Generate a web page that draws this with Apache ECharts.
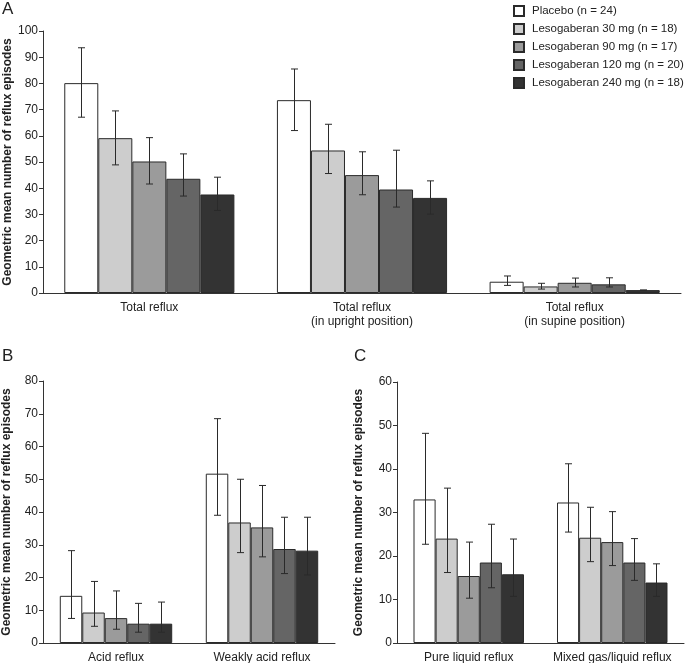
<!DOCTYPE html>
<html>
<head>
<meta charset="utf-8">
<script src="https://cdn.jsdelivr.net/npm/echarts@6/dist/echarts.min.js"></script>
<style>
html,body{margin:0;padding:0;background:#fff;}
#chart{width:685px;height:663px;}
</style>
</head>
<body>
<div id="chart"></div>
<script>
// ---- Data ----
const seriesNames = ['Placebo (n = 24)', 'Lesogaberan 30 mg (n = 18)', 'Lesogaberan 90 mg (n = 17)', 'Lesogaberan 120 mg (n = 20)', 'Lesogaberan 240 mg (n = 18)'];
const seriesColors = ['#ffffff', '#cdcdcd', '#9b9b9b', '#656565', '#333333'];

const catsA = ['Total reflux', 'Total reflux\n(in upright position)', 'Total reflux\n(in supine position)'];
const catsB = ['Acid reflux', 'Weakly acid reflux'];
const catsC = ['Pure liquid reflux', 'Mixed gas/liquid reflux'];

// Panel A: values per series (rows) across categories
const valA = [[80.1, 73.6, 4.3], [59.1, 54.4, 2.5], [50.2, 45.0, 3.9], [43.6, 39.5, 3.3], [37.6, 36.3, 1.1]];
const loA  = [[67.1, 62.0, 2.9], [48.9, 45.6, 1.5], [41.6, 37.5, 2.3], [37.0, 32.8, 2.3], [31.5, 30.1, 1.1]];
const hiA  = [[93.6, 85.5, 6.5], [69.5, 64.4, 3.7], [59.3, 53.9, 5.7], [53.1, 54.5, 5.8], [44.2, 42.8, 1.1]];

// Panel B
const valB = [[14.4, 51.7], [9.3, 36.8], [7.6, 35.3], [5.9, 28.7], [5.9, 28.2]];
const loB  = [[7.5, 39.0], [5.1, 27.6], [4.2, 26.3], [3.3, 21.2], [3.3, 20.8]];
const hiB  = [[28.2, 68.5], [18.8, 50.0], [15.9, 48.1], [12.1, 38.4], [12.5, 38.4]];

// Panel C
const valC = [[33.0, 32.3], [24.0, 24.2], [15.4, 23.2], [18.5, 18.5], [15.8, 13.9]];
const loC  = [[22.7, 25.5], [16.2, 18.7], [10.3, 17.8], [12.7, 14.4], [10.7, 10.7]];
const hiC  = [[48.2, 41.2], [35.6, 31.2], [23.2, 30.2], [27.3, 24.0], [23.9, 18.2]];

const yMaxA = 100, yMaxB = 80, yMaxC = 60, yStep = 10;
const yName = 'Geometric mean number of reflux episodes';

// ---- Chart ----
const FONT = 'Liberation Sans, Arial, Helvetica, sans-serif';
const TXT = '#222';
const AX = '#333';

const panels = [
  {cats: catsA, val: valA, lo: loA, hi: hiA, max: yMaxA, gap: 0.20, grid: {left: 43, top: 31, width: 638, height: 262}, nameGap: 29},
  {cats: catsB, val: valB, lo: loB, hi: hiB, max: yMaxB, gap: 0.23, grid: {left: 43, top: 381, width: 292, height: 262}, nameGap: 30},
  {cats: catsC, val: valC, lo: loC, hi: hiC, max: yMaxC, gap: 0.23, grid: {left: 397, top: 382, width: 287, height: 261}, nameGap: 32}
];

const grids = [], xAxes = [], yAxes = [], series = [];
panels.forEach((p, gi) => {
  grids.push(Object.assign({containLabel: false, outerBoundsMode: 'none'}, p.grid));
  xAxes.push({
    type: 'category', gridIndex: gi, data: p.cats,
    axisLine: {lineStyle: {color: AX, width: 1}},
    axisTick: {show: false},
    axisLabel: {color: TXT, fontSize: 12, fontFamily: FONT, margin: 8, lineHeight: 14, interval: 0, hideOverlap: false}
  });
  yAxes.push({
    type: 'value', gridIndex: gi, min: 0, max: p.max, interval: yStep,
    name: yName, nameLocation: 'middle', nameGap: p.nameGap, nameRotate: 90, nameMoveOverlap: false,
    nameTextStyle: {color: TXT, fontSize: 12, fontWeight: 'bold', fontFamily: FONT},
    axisLine: {show: true, lineStyle: {color: AX, width: 1}},
    axisTick: {show: true, length: 4, lineStyle: {color: AX}},
    axisLabel: {color: TXT, fontSize: 12, fontFamily: FONT, margin: 5},
    splitLine: {show: false}
  });
  seriesNames.forEach((nm, si) => {
    series.push({
      type: 'bar', name: nm, xAxisIndex: gi, yAxisIndex: gi,
      data: p.val[si],
      barGap: '0%', barCategoryGap: (p.gap * 100) + '%',
      itemStyle: {color: seriesColors[si], borderColor: '#2a2a2a', borderWidth: 1},
      emphasis: {disabled: true}, animation: false
    });
  });
  // error bars
  const errData = [];
  seriesNames.forEach((nm, si) => {
    p.cats.forEach((c, ci) => {
      errData.push([ci, si, p.lo[si][ci], p.hi[si][ci]]);
    });
  });
  const gap = p.gap;
  series.push({
    type: 'custom', xAxisIndex: gi, yAxisIndex: gi, data: errData, z: 10,
    encode: {x: 0, y: [2, 3]}, animation: false, silent: true,
    renderItem: function (params, api) {
      const ci = api.value(0), si = api.value(1), lo = api.value(2), hi = api.value(3);
      const catW = api.size([1, 0])[0];
      const bw = catW * (1 - gap) / 5;
      const cx = Math.round(api.coord([ci, 0])[0] + (si - 2) * bw) + 0.5;
      const yl = api.coord([ci, lo])[1], yh = api.coord([ci, hi])[1];
      const cap = 3.5;
      const st = {stroke: '#2a2a2a', lineWidth: 1};
      return {type: 'group', children: [
        {type: 'line', shape: {x1: cx, y1: yl, x2: cx, y2: yh}, style: st},
        {type: 'line', shape: {x1: cx - cap, y1: yh, x2: cx + cap, y2: yh}, style: st},
        {type: 'line', shape: {x1: cx - cap, y1: yl, x2: cx + cap, y2: yl}, style: st}
      ]};
    }
  });
});

const chart = echarts.init(document.getElementById('chart'), null, {renderer: 'canvas'});
chart.setOption({
  backgroundColor: '#ffffff',
  animation: false,
  title: [
    {text: 'A', left: 2, top: 1, padding: 0, textStyle: {fontSize: 17, fontWeight: 'normal', color: TXT, fontFamily: FONT}},
    {text: 'B', left: 2, top: 348, padding: 0, textStyle: {fontSize: 17, fontWeight: 'normal', color: TXT, fontFamily: FONT}},
    {text: 'C', left: 354, top: 348, padding: 0, textStyle: {fontSize: 17, fontWeight: 'normal', color: TXT, fontFamily: FONT}}
  ],
  legend: {
    data: seriesNames, orient: 'vertical', left: 513, top: 5, padding: 0,
    icon: 'rect', itemWidth: 10, itemHeight: 10, itemGap: 6,
    textStyle: {color: TXT, fontSize: 11.5, fontFamily: FONT, padding: [0, 0, 0, 3]},
    selectedMode: false
  },
  grid: grids, xAxis: xAxes, yAxis: yAxes, series: series
});
</script>
</body>
</html>
